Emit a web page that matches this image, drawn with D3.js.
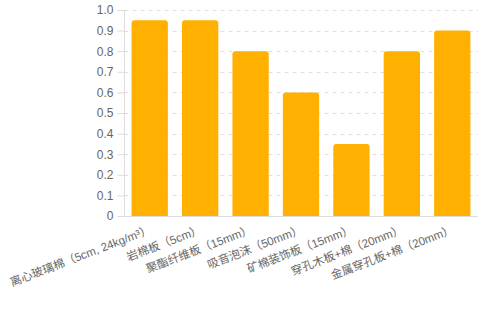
<!DOCTYPE html>
<html><head><meta charset="utf-8">
<script src="https://cdn.jsdelivr.net/npm/d3@7"></script>
<style>
html,body{margin:0;padding:0;background:#fff;}
svg{display:block;font-family:"Helvetica Neue",Helvetica,Arial,"Liberation Sans","Noto Sans CJK SC",sans-serif;}
</style></head>
<body><svg id="c" width="478" height="310"></svg>
<script>
const categories = ["离心玻璃棉（5cm, 24kg/m³）","岩棉板（5cm）","聚酯纤维板（15mm）","吸音泡沫（50mm）","矿棉装饰板（15mm）","穿孔木板+棉（20mm）","金属穿孔板+棉（20mm）"];
const values = [0.95, 0.95, 0.8, 0.6, 0.35, 0.8, 0.9];
const yTicks = [0,0.1,0.2,0.3,0.4,0.5,0.6,0.7,0.8,0.9,1.0];
const yTickLabels = ["0","0.1","0.2","0.3","0.4","0.5","0.6","0.7","0.8","0.9","1.0"];

const svg = d3.select("#c");
const pLeft = 124.5, pRight = 477.5, pTop = 10, pBottom = 216;
const x = d3.scaleBand().domain(categories).range([pLeft, pRight]).paddingInner(0.28).paddingOuter(0.14);
const y = d3.scaleLinear().domain([0,1]).range([pBottom, pTop]);

// grid
svg.append("g").selectAll("line").data(yTicks.filter(d=>d>0)).join("line")
  .attr("x1", pLeft).attr("x2", pRight+0.5)
  .attr("y1", d=>Math.round(y(d))+0.5).attr("y2", d=>Math.round(y(d))+0.5)
  .attr("stroke","#e0e0e0").attr("stroke-dasharray","4,4");

// y axis
const ya = svg.append("g").attr("transform",`translate(${pLeft},0)`)
  .call(d3.axisLeft(y).tickValues(yTicks).tickFormat((d,i)=>yTickLabels[i]).tickSize(7).tickPadding(4));
ya.select(".domain").attr("stroke","#ddd").attr("d",`M0,${pTop}V${pBottom}`);
ya.selectAll(".tick line").attr("stroke","#ddd");
ya.selectAll(".tick text").attr("fill","#666").attr("font-size","12px")
  .attr("font-family","'Helvetica Neue',Helvetica,Arial,'Liberation Sans',sans-serif");

// x axis line
svg.append("line").attr("x1",pLeft).attr("x2",pRight+0.5).attr("y1",pBottom+0.5).attr("y2",pBottom+0.5).attr("stroke","#ddd");

// bars with rounded top corners
const r = 3;
svg.append("g").selectAll("path").data(values).join("path")
  .attr("fill","#FFB000")
  .attr("d",(d,i)=>{
    const x0 = x(categories[i]), w = x.bandwidth(), y0 = y(d);
    return `M${x0},${pBottom}V${y0+r}Q${x0},${y0} ${x0+r},${y0}H${x0+w-r}Q${x0+w},${y0} ${x0+w},${y0+r}V${pBottom}Z`;
  });

// x labels
svg.append("g").selectAll("text").data(categories).join("text")
  .attr("transform", d=>`translate(${x(d)+x.bandwidth()/2+1},${pBottom+13}) rotate(-21)`)
  .attr("text-anchor","end").attr("dy","0.35em")
  .attr("font-size","11.5px").attr("fill","#666")
  .text(d=>d);
</script></body></html>
